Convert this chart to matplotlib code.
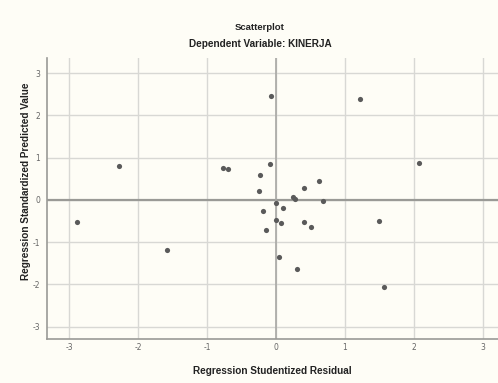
import matplotlib
matplotlib.use("Agg")
import matplotlib.pyplot as plt

# studentized residuals vs standardized predicted values
resid = [-0.07, 1.22, -0.77, -0.70, -0.08, -0.23, -0.25, 0.63, 0.41, 0.24, 0.28,
         0.68, 0.00, 0.10, -0.19, 0.00, 0.07, 0.40, 0.51, -0.15, 0.05, 0.30,
         1.49, -2.27, -2.89, -1.58, 2.08, 1.57]
pred = [2.47, 2.40, 0.75, 0.73, 0.84, 0.60, 0.22, 0.46, 0.29, 0.06, 0.03,
        -0.02, -0.06, -0.18, -0.25, -0.47, -0.55, -0.52, -0.63, -0.72, -1.36, -1.63,
        -0.49, 0.80, -0.53, -1.19, 0.87, -2.05]
ticks = [-3, -2, -1, 0, 1, 2, 3]

bg = "#fefdf6"
fig = plt.figure(figsize=(4.98, 3.83), dpi=100, facecolor=bg)
ax = fig.add_axes([0.0944, 0.1149, 0.9056, 0.7337], facecolor=bg)

ax.set_xlim(-3.32, 3.22)
ax.set_ylim(-3.29, 3.36)
ax.set_xticks(ticks)
ax.set_yticks(ticks)
ax.grid(True, color="#d8d8d4", linewidth=1.0)
ax.axhline(0, color="#9a9a96", linewidth=1.6, zorder=1)
ax.axvline(0, color="#a8a8a4", linewidth=1.2, zorder=1)
ax.set_axisbelow(True)

ax.scatter(resid, pred, s=14, color="#5a5a5a", zorder=3, linewidths=0)

for side in ["top", "right"]:
    ax.spines[side].set_visible(False)
for side in ["left", "bottom"]:
    ax.spines[side].set_color("#9a9a96")
    ax.spines[side].set_linewidth(1.2)

ax.tick_params(axis="x", length=0, labelsize=5.5, labelcolor="#666666", pad=3)
ax.tick_params(axis="y", length=0, labelsize=5.5, labelcolor="#666666", pad=5)
ax.set_xticklabels([str(t) for t in ticks])
ax.set_yticklabels([str(t) for t in ticks])

ax.set_xlabel("Regression Studentized Residual", fontsize=7.2, family="Liberation Sans",
              labelpad=10, color="#222222", fontweight="bold")
ax.set_ylabel("Regression Standardized Predicted Value", fontsize=7.2, family="Liberation Sans",
              color="#222222", fontweight="bold")
ax.yaxis.set_label_coords(-0.036, 0.56)
fig.text(0.522, 0.929, "Scatterplot", ha="center", va="center", fontsize=6.8,
         family="Liberation Sans", color="#222222", fontweight="bold")
fig.text(0.522, 0.884, "Dependent Variable: KINERJA", ha="center", va="center", fontsize=7.2,
         family="Liberation Sans", color="#222222", fontweight="bold")

fig.savefig("out.png", dpi=100, facecolor=bg)
